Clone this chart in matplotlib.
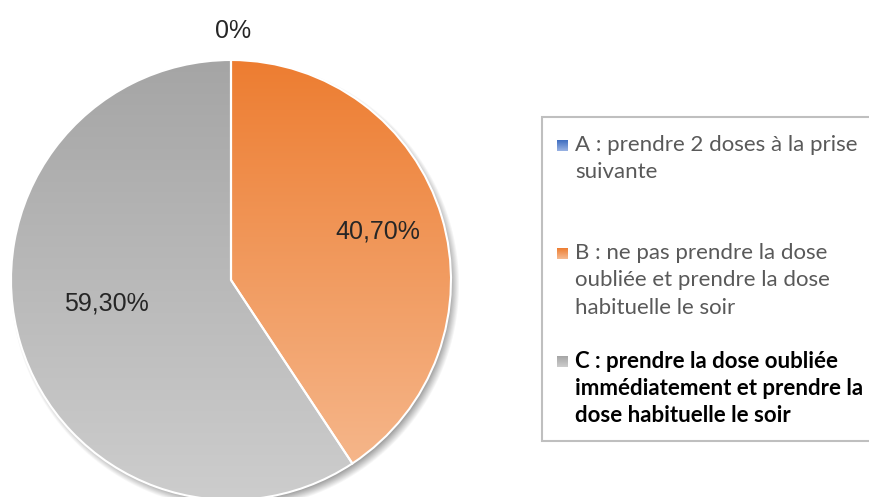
import numpy as np
import matplotlib.pyplot as plt
from matplotlib.colors import LinearSegmentedColormap
from matplotlib.patches import Rectangle

# data
categories = ["A", "B", "C"]
values = [0.0, 40.70, 59.30]
legend_lines = [
    ["A : prendre 2 doses à la prise", "suivante"],
    ["B : ne pas prendre la dose", "oubliée et prendre la dose", "habituelle le soir"],
    ["C : prendre la dose oubliée", "immédiatement et prendre la", "dose habituelle le soir"],
]
legend_bold = [False, False, True]

# gradient colours (top, bottom)
grads = [("#3E6DC0", "#9AB3E3"), ("#ED7D31", "#F6BB92"), ("#A5A5A5", "#CDCDCD")]

W, H = 870, 497
fig = plt.figure(figsize=(W / 100, H / 100), dpi=100)
ax = fig.add_axes([0, 0, 1, 1])

cx, cy, R = 231, H - 280, 220

# soft shadow under the pie
sx, sy = cx + 4, cy - 5
xs = np.arange(sx - R - 20, sx + R + 20)
ys = np.arange(sy - R - 20, sy + R + 20)
X, Y = np.meshgrid(xs, ys)
d = np.hypot(X - sx, Y - sy)
a = np.clip((R + 5 - d) / 10.0, 0, 1) * 0.6
shadow = np.zeros(X.shape + (4,))
shadow[..., :3] = 0.35
shadow[..., 3] = a
ax.imshow(shadow, extent=(xs[0], xs[-1], ys[0], ys[-1]), origin='lower', zorder=1)

wedges, _ = ax.pie(values, center=(cx, cy), radius=R, startangle=90, counterclock=False,
                   wedgeprops=dict(edgecolor='white', linewidth=1.5),
                   frame=True)
ax.set_xlim(0, W)
ax.set_ylim(0, H)
ax.set_aspect('equal')
ax.axis('off')

grad = np.linspace(0, 1, 256).reshape(-1, 1)
for w, (c0, c1) in zip(wedges, grads):
    w.set_facecolor('none')
    w.set_zorder(3)
    cmap = LinearSegmentedColormap.from_list('g', [c1, c0])
    im = ax.imshow(grad, cmap=cmap, extent=(cx - R, cx + R, cy - R, cy + R),
                   origin='lower', aspect='auto', zorder=2)
    im.set_clip_path(w)

# value labels
label_pos = [(233, 31), (378, 231), (106, 303)]
for v, (lx, ly) in zip(values, label_pos):
    txt = "0%" if v == 0 else f"{v:.2f}".replace('.', ',') + "%"
    ax.text(lx, H - ly, txt, ha='center', va='center', fontsize=18,
            family='Liberation Sans', color='#262626', zorder=5)

# legend box
ax.add_patch(Rectangle((542, H - 441), 340, 324, facecolor='white',
                       edgecolor='#BFBFBF', linewidth=1.5, zorder=4))
first_line_y = [145, 253, 361]
line_h = 27.5
for i, lines in enumerate(legend_lines):
    y0 = first_line_y[i]
    c0, c1 = grads[i]
    ax.imshow(grad, cmap=LinearSegmentedColormap.from_list('s', [c1, c0]),
              extent=(557, 568, H - y0 - 6, H - y0 + 5), origin='lower',
              aspect='auto', zorder=5)
    for j, line in enumerate(lines):
        ax.text(575, H - (y0 + j * line_h), line, ha='left', va='center',
                fontsize=16, family='Lato',
                fontweight='bold' if legend_bold[i] else 'normal',
                color='black' if legend_bold[i] else '#595959', zorder=6)

fig.savefig('out.png', dpi=100)
